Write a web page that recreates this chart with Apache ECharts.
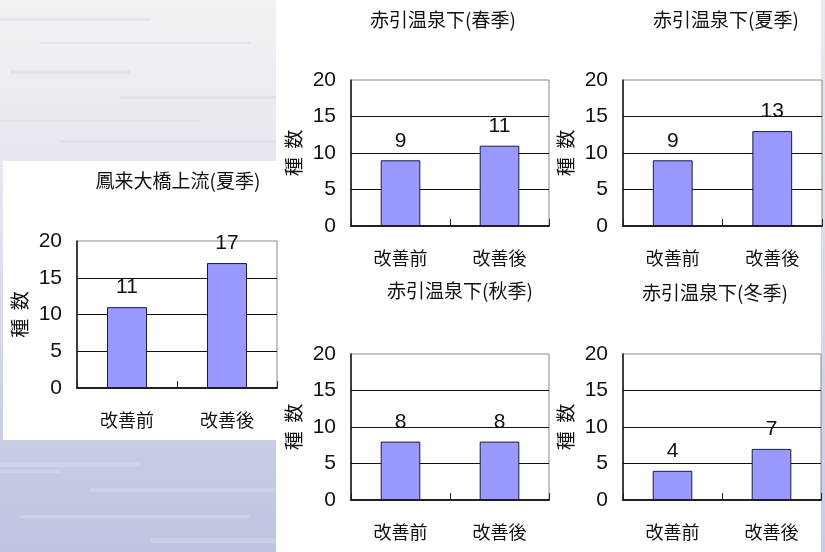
<!DOCTYPE html>
<html>
<head>
<meta charset="utf-8">
<title>改善前後の種数</title>
<script src="https://cdn.jsdelivr.net/npm/echarts@6/dist/echarts.min.js"></script>
<style>
  html, body { margin: 0; padding: 0; background: #fff; }
  #main { width: 825px; height: 552px; }
</style>
</head>
<body>
<div id="main"></div>
<script>
// データ
var categories = ['改善前', '改善後'];
var titles = ['鳳来大橋上流(夏季)', '赤引温泉下(春季)', '赤引温泉下(夏季)', '赤引温泉下(秋季)', '赤引温泉下(冬季)'];
var values = [
    [11, 17],   // 鳳来大橋上流 夏季
    [9, 11],    // 赤引温泉下 春季
    [9, 13],    // 赤引温泉下 夏季
    [8, 8],     // 赤引温泉下 秋季
    [4, 7]      // 赤引温泉下 冬季
];
var yMin = 0, yMax = 20, yStep = 5;
var yName = '種  数';

// レイアウト
var grids = [
    {left: 77,  top: 241, width: 200, height: 147},
    {left: 351, top: 80,  width: 198, height: 146},
    {left: 623, top: 80,  width: 199, height: 146},
    {left: 351, top: 354, width: 198, height: 146},
    {left: 623, top: 354, width: 198, height: 146}
];
var titlePos = [[178, 171], [443, 10], [726, 10], [460, 281], [715, 283]];

var cjkFont = "'Noto Sans CJK JP', 'Noto Sans CJK SC', sans-serif";
var numFont = "'Liberation Sans Narrow', 'Liberation Sans', Arial, sans-serif";

var myChart = echarts.init(document.getElementById('main'), null, {renderer: 'canvas'});

var title = [], grid = [], xAxis = [], yAxis = [], series = [];
for (var i = 0; i < titles.length; i++) {
    title.push({
        text: titles[i],
        left: titlePos[i][0],
        top: titlePos[i][1],
        padding: 0,
        textAlign: 'center',
        textStyle: {color: '#111', fontSize: 19, fontWeight: 'normal', fontFamily: cjkFont}
    });
    grid.push({
        left: grids[i].left, top: grids[i].top,
        width: grids[i].width, height: grids[i].height,
        show: true,
        backgroundColor: '#fff',
        borderColor: '#8a8a8a',
        borderWidth: 1
    });
    xAxis.push({
        type: 'category',
        gridIndex: i,
        data: categories,
        axisLine: {lineStyle: {color: '#222', width: 2}},
        axisTick: {show: true, inside: true, length: 7, alignWithLabel: false, lineStyle: {color: '#222'}},
        axisLabel: {margin: 23, color: '#111', fontSize: 18, fontFamily: cjkFont},
        splitLine: {show: false}
    });
    yAxis.push({
        type: 'value',
        gridIndex: i,
        min: yMin, max: yMax, interval: yStep,
        name: yName,
        nameLocation: 'middle',
        nameRotate: 90,
        nameGap: 48,
        nameTextStyle: {color: '#111', fontSize: 19, fontFamily: cjkFont},
        axisLine: {show: true, lineStyle: {color: '#111', width: 1.5}},
        axisTick: {show: false},
        axisLabel: {margin: 15, color: '#111', fontSize: 21, fontFamily: numFont},
        splitLine: {show: true, showMinLine: false, showMaxLine: false, lineStyle: {color: '#111', width: 1}}
    });
    series.push({
        type: 'bar',
        xAxisIndex: i,
        yAxisIndex: i,
        data: values[i],
        barWidth: '40%',
        itemStyle: {color: '#9999ff', borderColor: '#1a1a40', borderWidth: 1},
        label: {
            show: true, position: 'top', distance: 9,
            color: '#111', fontSize: 21, fontFamily: numFont
        },
        silent: true
    });
}

// 背景（左側の模様とグラフ1の白枠）
var streaks = [
    [0, 18, 150, 3], [40, 42, 210, 2], [10, 70, 120, 4], [120, 96, 156, 3],
    [0, 120, 200, 2], [60, 140, 216, 3], [0, 462, 140, 5], [90, 488, 186, 4],
    [20, 515, 230, 3], [150, 538, 126, 5], [0, 470, 60, 3]
];
var graphic = [
    {type: 'rect', left: 0, top: 0, z: -10, silent: true,
     shape: {width: 276, height: 552},
     style: {fill: new echarts.graphic.LinearGradient(0, 0, 0, 1, [
        {offset: 0, color: '#f2f2f6'}, {offset: 0.3, color: '#e7e8ef'},
        {offset: 0.6, color: '#d6d8ea'}, {offset: 0.82, color: '#c8cbe4'},
        {offset: 1, color: '#c1c4e1'}])}},
    {type: 'rect', left: 821, top: 0, z: -10, silent: true,
     shape: {width: 4, height: 552},
     style: {fill: new echarts.graphic.LinearGradient(0, 0, 0, 1, [
        {offset: 0, color: '#e8e9f1'}, {offset: 1, color: '#c8cbe6'}])}}
];
streaks.forEach(function (s) {
    graphic.push({type: 'rect', left: s[0], top: s[1], z: -9, silent: true,
        shape: {width: s[2], height: s[3]},
        style: {fill: s[1] > 300 ? 'rgba(215,217,238,0.5)' : 'rgba(210,211,222,0.35)'}});
});
graphic.push({type: 'rect', left: 3, top: 161, z: -8, silent: true,
    shape: {width: 273, height: 279}, style: {fill: '#ffffff'}});

option = {
    backgroundColor: '#ffffff',
    animation: false,
    graphic: graphic,
    title: title,
    grid: grid,
    xAxis: xAxis,
    yAxis: yAxis,
    series: series
};
myChart.setOption(option);
</script>
</body>
</html>
